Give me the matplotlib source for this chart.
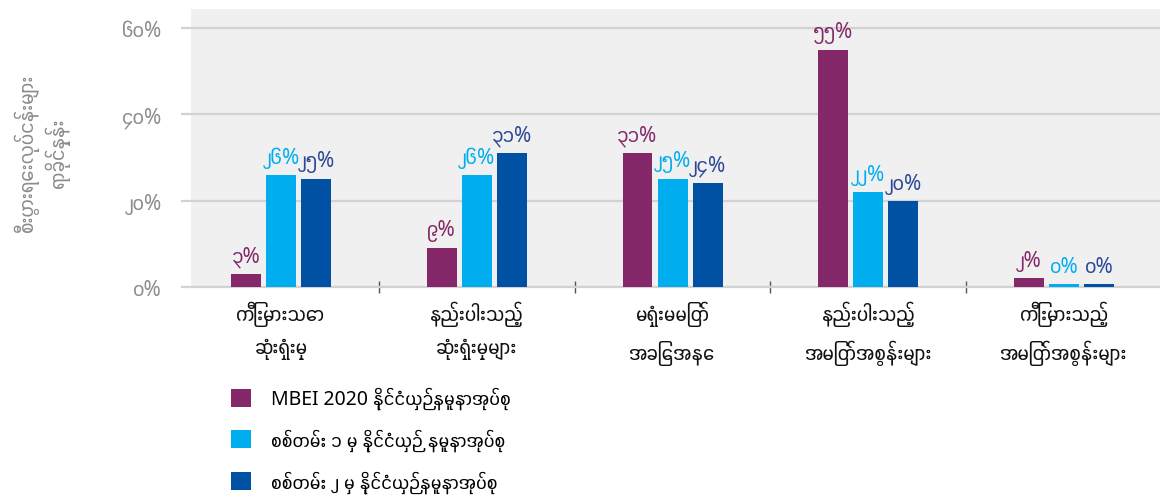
import matplotlib
matplotlib.use("Agg")
import matplotlib.pyplot as plt
from matplotlib import font_manager as fm
from matplotlib.ft2font import FT2Font
from matplotlib.patches import Patch
import numpy as np

# ---------------- data ----------------
categories = [
    "ကြီးမားသော\nဆုံးရှုံးမှု",
    "နည်းပါးသည့်\nဆုံးရှုံးမှုများ",
    "မရှုံးမမြတ်\nအခြေအနေ",
    "နည်းပါးသည့်\nအမြတ်အစွန်းများ",
    "ကြီးမားသည့်\nအမြတ်အစွန်းများ",
]
series_names = [
    "MBEI 2020 နိုင်ငံယှဉ်နမူနာအုပ်စု",
    "စစ်တမ်း ၁ မှ နိုင်ငံယှဉ် နမူနာအုပ်စု",
    "စစ်တမ်း ၂ မှ နိုင်ငံယှဉ်နမူနာအုပ်စု",
]
mbei_2020 = [3, 9, 31, 55, 2]
survey_1 = [26, 26, 25, 22, 0]
survey_2 = [25, 31, 24, 20, 0]
y_ticks = [0, 20, 40, 60]
y_title = "စီးပွားရေးလုပ်ငန်းများ\nရာခိုင်နှုန်း"

bar_colors = ["#84286a", "#00aeef", "#0050a3"]
label_colors = ["#84286a", "#00aeef", "#2b4797"]

MY_DIGITS = "၀၁၂၃၄၅၆၇၈၉"


def my_num(v):
    return "".join(MY_DIGITS[int(c)] if c.isdigit() else c for c in str(v))


# ---------------- fonts ----------------
def find_fonts(ch):
    found = []
    seen = set()
    for f in fm.fontManager.ttflist:
        if f.fname in seen:
            continue
        seen.add(f.fname)
        try:
            ft = FT2Font(f.fname)
            if ord(ch) in ft.get_charmap():
                found.append(f.name)
        except Exception:
            pass
    return found


def rank(name):
    n = name.lower()
    score = 0
    if "mono" in n or "code" in n or "unifont" in n:
        score += 100
    if "myanmar" in n or "padauk" in n or "pyidaungsu" in n or "zawgyi" in n:
        score -= 50
    if "ui" in n.split():
        score += 5
    if "serif" in n and "sans" not in n:
        score += 10
    return score


my_fonts = sorted(set(find_fonts("က")), key=rank)
families = ["Noto Sans"] + my_fonts[:1] + ["DejaVu Sans"]
plt.rcParams["font.family"] = families

# ---------------- figure ----------------
W, H = 1160, 502
fig = plt.figure(figsize=(W / 100, H / 100), dpi=100)
ax = fig.add_axes([191 / W, (H - 288) / H, (1160 - 191) / W, 278 / H])
ax.set_facecolor("#f0f0f0")

x = np.arange(len(categories))
bw = 0.153
step = 0.179
series = [mbei_2020, survey_1, survey_2]
min_visible = 0.7
for i, (vals, bc, lc) in enumerate(zip(series, bar_colors, label_colors)):
    xs = x + (i - 1) * step
    heights = [max(v, min_visible) for v in vals]
    ax.bar(xs, heights, width=bw, color=bc, zorder=3)
    for xi, v, h in zip(xs, vals, heights):
        ax.annotate(my_num(v) + "%", (xi, h), xytext=(0, 5), textcoords="offset points",
                    ha="center", va="bottom", color=lc, fontsize=15, fontweight="bold",
                    zorder=4)

ax.set_xlim(-0.46, 4.49)
ax.set_ylim(0, 64.4)
ax.set_yticks(y_ticks)
ax.set_yticklabels([my_num(t) + "%" for t in y_ticks], color="#8c8c8c", fontsize=15)
ax.yaxis.grid(True, color="#d2d2d2", linewidth=1.6, zorder=0)
ax.tick_params(axis="y", length=7, width=1.6, color="#d2d2d2", pad=14)

ax.set_xticks(x)
ax.set_xticklabels(categories, fontsize=15, linespacing=1.7, color="#111111")
ax.tick_params(axis="x", length=0, pad=10)
ax.set_xticks([0.5, 1.5, 2.5, 3.5], minor=True)
ax.tick_params(axis="x", which="minor", direction="inout", length=8, width=1, color="#555555")

for s in ["top", "right", "left"]:
    ax.spines[s].set_visible(False)
ax.spines["bottom"].set_color("#d2d2d2")
ax.spines["bottom"].set_linewidth(1.6)

fig.text(42 / W, 1 - 153 / H, y_title, rotation=90, ha="center", va="center",
         fontsize=15, color="#8c8c8c", linespacing=1.3, multialignment="center")

handles = [Patch(facecolor=c, edgecolor="none") for c in bar_colors]
fig.legend(handles, series_names, loc="upper left", bbox_to_anchor=(231 / W, 1 - 388 / H),
           frameon=False, fontsize=14, handlelength=1.05, handleheight=1.05,
           handletextpad=1.0, labelspacing=1.0, borderaxespad=0, borderpad=0)

fig.savefig("out.png", dpi=100)
